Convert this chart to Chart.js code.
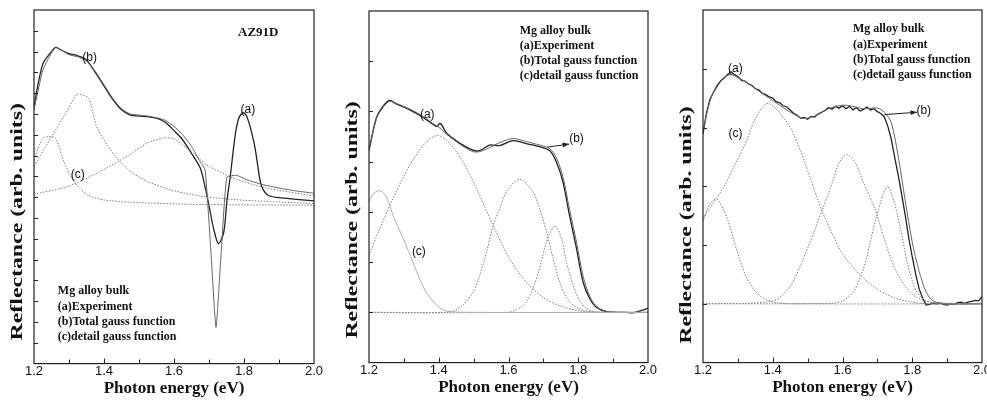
<!DOCTYPE html>
<html>
<head>
<meta charset="utf-8">
<script src="https://cdn.jsdelivr.net/npm/chart.js@4.4.0/dist/chart.umd.min.js"></script>
<style>
    body { margin: 0; width: 987px; height: 403px; overflow: hidden; background: #fff; position: relative; }
    .panel { position: absolute; top: 0; height: 403px; }
</style>
</head>
<body>
<div class="panel" style="left:0;width:330px"><canvas id="panel1" width="330" height="403"></canvas></div>
<div class="panel" style="left:330px;width:330px"><canvas id="panel2" width="330" height="403"></canvas></div>
<div class="panel" style="left:660px;width:340px"><canvas id="panel3" width="340" height="403"></canvas></div>
<script>
// === Veriler ===
const xTikEtiketleri = ['1.2', '1.4', '1.6', '1.8', '2.0'];
const aciklamaSatirlari = ['Mg alloy bulk', '(a)Experiment', '(b)Total gauss function', '(c)detail gauss function'];

// Panel 1 (AZ91D)
const p1DeneyX = [1.2, 1.225, 1.25, 1.262, 1.275, 1.3, 1.325, 1.35, 1.375, 1.4, 1.425, 1.45, 1.475, 1.5, 1.525, 1.55, 1.575, 1.6, 1.625, 1.65, 1.675, 1.69, 1.70, 1.713, 1.727, 1.742, 1.751, 1.76, 1.775, 1.785, 1.798, 1.81, 1.83, 1.846, 1.855, 1.87, 1.9, 1.95, 2.0];
const p1DeneyY = [12.4, 14.4, 15.0, 15.2, 15.1, 14.9, 14.8, 14.6, 14.0, 13.35, 12.7, 12.2, 11.95, 11.9, 11.87, 11.8, 11.6, 11.2, 10.75, 10.1, 9.4, 8.4, 7.6, 6.5, 5.77, 6.3, 7.8, 8.9, 11.0, 11.8, 12.06, 11.8, 10.5, 8.8, 8.35, 8.08, 7.98, 7.9, 7.82];
const p1ToplamX = [1.2, 1.225, 1.25, 1.262, 1.275, 1.3, 1.325, 1.35, 1.375, 1.4, 1.425, 1.45, 1.475, 1.5, 1.525, 1.55, 1.575, 1.6, 1.625, 1.65, 1.675, 1.689, 1.705, 1.72, 1.735, 1.751, 1.779, 1.808, 1.85, 1.903, 1.95, 2.0];
const p1ToplamY = [12.2, 14.1, 14.95, 15.2, 15.1, 14.85, 14.75, 14.55, 14.05, 13.4, 12.75, 12.25, 12.0, 11.95, 11.9, 11.82, 11.7, 11.4, 11.0, 10.45, 9.7, 9.3, 5.5, 1.74, 5.4, 8.95, 9.05, 8.84, 8.62, 8.43, 8.3, 8.19];
const p1Gauss1X = [1.2, 1.215, 1.228, 1.261, 1.285, 1.313, 1.352, 1.399, 1.475, 1.646, 1.8, 2.0];
const p1Gauss1Y = [9.8, 10.5, 10.88, 10.85, 9.72, 8.76, 8.11, 7.87, 7.76, 7.66, 7.63, 7.62];
const p1Gauss2X = [1.2, 1.25, 1.3, 1.323, 1.356, 1.38, 1.428, 1.475, 1.523, 1.589, 1.646, 1.7, 1.8, 2.0];
const p1Gauss2Y = [9.5, 10.9, 12.3, 12.95, 12.76, 11.33, 10.05, 9.24, 8.76, 8.36, 8.14, 8.0, 7.85, 7.7];
const p1Gauss3X = [1.2, 1.295, 1.39, 1.466, 1.523, 1.57, 1.598, 1.636, 1.693, 1.769, 1.864, 2.0];
const p1Gauss3Y = [8.15, 8.5, 9.24, 9.97, 10.6, 10.85, 10.82, 10.37, 9.56, 8.92, 8.44, 8.06];

// Panel 2
const p2DeneyX = [1.2, 1.221, 1.24, 1.259, 1.278, 1.317, 1.355, 1.384, 1.395, 1.403, 1.41, 1.422, 1.46, 1.498, 1.517, 1.546, 1.575, 1.613, 1.651, 1.69, 1.718, 1.737, 1.756, 1.775, 1.795, 1.814, 1.833, 1.852, 1.881, 1.938, 1.957, 2.0];
const p2DeneyY = [3.23, 3.87, 4.1, 4.22, 4.15, 4.03, 3.88, 3.74, 3.7, 3.76, 3.72, 3.57, 3.37, 3.23, 3.22, 3.33, 3.32, 3.42, 3.36, 3.3, 3.22, 3.0, 2.6, 1.93, 1.27, 0.6, 0.27, 0.1, 0.013, 0, -0.01, 0.08];
const p2ToplamX = [1.2, 1.221, 1.24, 1.259, 1.278, 1.317, 1.355, 1.384, 1.403, 1.422, 1.46, 1.498, 1.517, 1.546, 1.575, 1.613, 1.651, 1.69, 1.718, 1.737, 1.756, 1.775, 1.795, 1.814, 1.833, 1.852, 1.881, 1.938, 2.0];
const p2ToplamY = [3.2, 3.85, 4.08, 4.2, 4.16, 4.05, 3.9, 3.76, 3.67, 3.55, 3.35, 3.2, 3.2, 3.28, 3.38, 3.46, 3.4, 3.33, 3.26, 3.08, 2.7, 2.05, 1.4, 0.72, 0.32, 0.12, 0.02, 0, 0];
const p2Gauss1X = [1.2, 1.215, 1.233, 1.25, 1.269, 1.298, 1.326, 1.345, 1.364, 1.393, 1.422, 1.5, 2.0];
const p2Gauss1Y = [2.2, 2.38, 2.42, 2.3, 1.93, 1.47, 1.0, 0.67, 0.4, 0.15, 0.03, 0, 0];
const p2Gauss2X = [1.2, 1.231, 1.269, 1.317, 1.365, 1.398, 1.431, 1.469, 1.508, 1.556, 1.603, 1.651, 1.699, 1.747, 1.804, 1.85, 2.0];
const p2Gauss2Y = [1.13, 1.67, 2.27, 2.93, 3.4, 3.52, 3.37, 3.0, 2.47, 1.73, 1.07, 0.6, 0.3, 0.13, 0.03, 0, 0];
const p2Gauss3X = [1.2, 1.431, 1.47, 1.498, 1.517, 1.537, 1.556, 1.575, 1.594, 1.632, 1.67, 1.689, 1.709, 1.728, 1.747, 1.766, 1.795, 1.842, 2.0];
const p2Gauss3Y = [0, 0.01, 0.15, 0.4, 0.73, 1.2, 1.73, 2.07, 2.4, 2.65, 2.4, 2.07, 1.6, 1.07, 0.6, 0.3, 0.1, 0.01, 0];
const p2Gauss4X = [1.2, 1.594, 1.623, 1.651, 1.67, 1.689, 1.709, 1.733, 1.752, 1.766, 1.786, 1.804, 1.823, 1.852, 2.0];
const p2Gauss4Y = [0, 0, 0.05, 0.2, 0.47, 0.87, 1.4, 1.72, 1.47, 1.0, 0.53, 0.23, 0.08, 0.01, 0];

// Panel 3
const p3DeneyX = [1.20, 1.21, 1.22, 1.23, 1.24, 1.25, 1.26, 1.27, 1.28, 1.29, 1.30, 1.31, 1.32, 1.33, 1.34, 1.35, 1.36, 1.37, 1.38, 1.39, 1.40, 1.41, 1.42, 1.43, 1.44, 1.45, 1.46, 1.47, 1.48, 1.49, 1.50, 1.51, 1.52, 1.53, 1.54, 1.55, 1.56, 1.57, 1.58, 1.59, 1.60, 1.61, 1.62, 1.63, 1.64, 1.65, 1.66, 1.67, 1.68, 1.69, 1.70, 1.71, 1.72, 1.73, 1.74, 1.75, 1.76, 1.77, 1.78, 1.79, 1.80, 1.81, 1.82, 1.83, 1.84, 1.85, 1.86, 1.87, 1.88, 1.89, 1.90, 1.91, 1.92, 1.93, 1.94, 1.95, 1.96, 1.97, 1.98, 1.99, 2.00];
const p3DeneyY = [2.89, 3.25, 3.48, 3.60, 3.70, 3.79, 3.84, 3.90, 3.95, 3.90, 3.87, 3.80, 3.79, 3.74, 3.72, 3.66, 3.64, 3.58, 3.56, 3.52, 3.50, 3.44, 3.42, 3.37, 3.35, 3.30, 3.24, 3.21, 3.16, 3.17, 3.14, 3.19, 3.18, 3.23, 3.26, 3.29, 3.34, 3.31, 3.36, 3.33, 3.37, 3.32, 3.36, 3.30, 3.34, 3.28, 3.31, 3.35, 3.30, 3.32, 3.27, 3.24, 3.18, 3.02, 2.80, 2.48, 2.18, 1.85, 1.50, 1.12, 0.80, 0.50, 0.25, 0.09, -0.02, -0.01, 0.01, 0.00, 0.01, -0.01, -0.02, 0.00, -0.01, 0.02, 0.03, 0.01, 0.03, 0.04, 0.06, 0.05, 0.12];
const p3ToplamX = [1.2, 1.22, 1.24, 1.26, 1.28, 1.3, 1.33, 1.36, 1.4, 1.44, 1.48, 1.5, 1.53, 1.56, 1.6, 1.63, 1.66, 1.7, 1.72, 1.74, 1.76, 1.78, 1.8, 1.82, 1.84, 1.86, 1.9, 2.0];
const p3ToplamY = [2.95, 3.45, 3.72, 3.85, 3.9, 3.85, 3.75, 3.62, 3.46, 3.3, 3.17, 3.16, 3.22, 3.32, 3.38, 3.36, 3.32, 3.33, 3.26, 3.08, 2.5, 1.75, 1.05, 0.55, 0.2, 0.05, 0, 0];
const p3Gauss1X = [1.2, 1.22, 1.24, 1.269, 1.298, 1.326, 1.355, 1.384, 1.412, 1.45, 2.0];
const p3Gauss1Y = [1.41, 1.7, 1.78, 1.46, 0.89, 0.43, 0.18, 0.06, 0.02, 0, 0];
const p3Gauss2X = [1.2, 1.23, 1.259, 1.29, 1.321, 1.35, 1.383, 1.412, 1.45, 1.48, 1.51, 1.54, 1.57, 1.6, 1.65, 1.7, 1.75, 1.8, 1.85, 2.0];
const p3Gauss2Y = [1.45, 1.72, 1.98, 2.35, 2.72, 3.15, 3.41, 3.3, 3.0, 2.6, 2.1, 1.6, 1.2, 0.85, 0.5, 0.25, 0.1, 0.03, 0, 0];
const p3Gauss3X = [1.2, 1.4, 1.45, 1.5, 1.541, 1.57, 1.59, 1.612, 1.635, 1.66, 1.694, 1.72, 1.75, 1.78, 1.81, 1.85, 1.9, 2.0];
const p3Gauss3Y = [0, 0.05, 0.3, 0.95, 1.58, 2.05, 2.4, 2.54, 2.42, 2.07, 1.6, 1.1, 0.6, 0.3, 0.12, 0.03, 0, 0];
const p3Gauss4X = [1.2, 1.57, 1.603, 1.632, 1.661, 1.68, 1.699, 1.728, 1.747, 1.766, 1.785, 1.804, 1.823, 1.852, 2.0];
const p3Gauss4Y = [0, 0.01, 0.06, 0.21, 0.61, 1.06, 1.52, 2.0, 1.75, 1.29, 0.72, 0.32, 0.12, 0.03, 0];

// === Stiller ===
const serifFont = '"Liberation Serif", "Times New Roman", serif';
const sansFont = '"Liberation Sans", Arial, sans-serif';
const stiller = {
    deney: { borderColor: '#222', borderWidth: 1.3 },
    toplam: { borderColor: '#666', borderWidth: 1 },
    gauss: { borderColor: '#7d7d7d', borderWidth: 1, borderDash: [1.5, 1.5] },
    acikGauss: { borderColor: '#b0b0b0', borderWidth: 1 }
};

// Seri oluştur
function seri(xs, ys, stil, tension = 0.3) {
    return Object.assign({
        data: xs.map((x, i) => ({ x, y: ys[i] })),
        pointRadius: 0,
        fill: false,
        tension
    }, stil);
}

// Çerçeve ve içe dönük tikler
const cerceve = {
    id: 'cerceve',
    afterDraw(chart) {
        const { ctx, chartArea: a, scales: { x, y } } = chart;
        ctx.save();
        ctx.strokeStyle = '#222';
        ctx.lineWidth = 1.2;
        ctx.strokeRect(a.left, a.top, a.right - a.left, a.bottom - a.top);
        ctx.lineWidth = 1;
        ctx.beginPath();
        x.ticks.forEach(t => {
            if (t.value <= x.min + 1e-6 || t.value >= x.max - 1e-6) return;
            const px = Math.round(x.getPixelForValue(t.value)) + 0.5;
            const buyuk = Math.round(t.value * 10) % 2 === 0;
            ctx.moveTo(px, a.bottom);
            ctx.lineTo(px, a.bottom - (buyuk ? 5 : 4));
        });
        y.ticks.forEach(t => {
            if (t.value <= y.min + 1e-6 || t.value >= y.max - 1e-6) return;
            const py = Math.round(y.getPixelForValue(t.value)) + 0.5;
            ctx.moveTo(a.left, py);
            ctx.lineTo(a.left + 4, py);
        });
        ctx.stroke();
        ctx.restore();
    }
};

// Yazı, ok ve dikey eksen başlığı eklentisi
function notEklentisi(notlar) {
    return {
        id: 'notlar',
        afterDraw(chart) {
            const { ctx, chartArea: a, scales: { x, y } } = chart;
            ctx.save();
            ctx.fillStyle = '#111';
            ctx.textBaseline = 'middle';
            (notlar.yazilar || []).forEach(n => {
                ctx.font = n.font;
                ctx.textAlign = n.hiza || 'center';
                ctx.fillText(n.metin, x.getPixelForValue(n.x), y.getPixelForValue(n.y));
            });
            (notlar.oklar || []).forEach(o => {
                const x1 = x.getPixelForValue(o.x1), y1 = y.getPixelForValue(o.y1);
                const x2 = x.getPixelForValue(o.x2), y2 = y.getPixelForValue(o.y2);
                const aci = Math.atan2(y2 - y1, x2 - x1);
                ctx.strokeStyle = '#222';
                ctx.lineWidth = 1;
                ctx.beginPath();
                ctx.moveTo(x1, y1);
                ctx.lineTo(x2, y2);
                ctx.stroke();
                ctx.beginPath();
                ctx.moveTo(x2, y2);
                ctx.lineTo(x2 - 7 * Math.cos(aci - 0.35), y2 - 7 * Math.sin(aci - 0.35));
                ctx.lineTo(x2 - 7 * Math.cos(aci + 0.35), y2 - 7 * Math.sin(aci + 0.35));
                ctx.closePath();
                ctx.fillStyle = '#222';
                ctx.fill();
            });
            // Dikey eksen başlığı (orijinalde metin uzun yönde gerilmiş)
            if (notlar.yBaslik) {
                const b = notlar.yBaslik;
                ctx.translate(a.left - 16, y.getPixelForValue(b.y));
                ctx.rotate(-Math.PI / 2);
                ctx.scale(1.4, 1);
                ctx.font = 'bold 17px ' + serifFont;
                ctx.textAlign = 'center';
                ctx.fillStyle = '#111';
                ctx.fillText(b.metin, 0, 0);
            }
            ctx.restore();
        }
    };
}

// Açıklama bloğu (legend yazıları)
function aciklama(x, ys) {
    return aciklamaSatirlari.map((metin, i) => ({ metin, x, y: ys[i], hiza: 'left', font: 'bold 12px ' + serifFont }));
}

const etiketFont = '12px ' + sansFont;

// Panel çiz
function panelCiz(id, datasets, yMin, yMax, dolgu, notlar) {
    return new Chart(document.getElementById(id), {
        type: 'line',
        data: { datasets },
        options: {
            responsive: false,
            animation: false,
            layout: { padding: dolgu },
            plugins: { legend: { display: false }, tooltip: { enabled: false } },
            scales: {
                x: {
                    type: 'linear', min: 1.2, max: 2.0,
                    grid: { display: false, drawTicks: false },
                    border: { display: false },
                    ticks: {
                        stepSize: 0.1, autoSkip: false, maxRotation: 0, padding: 1,
                        color: '#111', font: { family: sansFont, size: 13, lineHeight: 1 },
                        callback: v => {
                            const s = Number(v).toFixed(1);
                            return xTikEtiketleri.includes(s) ? s : '';
                        }
                    },
                    title: {
                        display: true, text: 'Photon energy (eV)', color: '#111',
                        font: { family: serifFont, size: 17, weight: 'bold' },
                        padding: { top: 0, bottom: 0 }
                    }
                },
                y: {
                    type: 'linear', min: yMin, max: yMax,
                    grid: { display: false, drawTicks: false },
                    border: { display: false },
                    ticks: { display: false, stepSize: 1 },
                    title: { display: false }
                }
            }
        },
        plugins: [cerceve, notEklentisi(notlar)]
    });
}

document.addEventListener('DOMContentLoaded', () => {
    // Panel 1
    panelCiz('panel1', [
        seri(p1Gauss1X, p1Gauss1Y, stiller.gauss, 0.2),
        seri(p1Gauss2X, p1Gauss2Y, stiller.gauss, 0.2),
        seri(p1Gauss3X, p1Gauss3Y, stiller.gauss, 0.2),
        seri(p1ToplamX, p1ToplamY, stiller.toplam, 0.15),
        seri(p1DeneyX, p1DeneyY, stiller.deney, 0.3)
    ], 0, 17, { left: 34, right: 16, top: 10, bottom: 4 }, {
        yazilar: [
            { metin: 'AZ91D', x: 1.783, y: 15.9, hiza: 'left', font: 'bold 13px ' + serifFont },
            { metin: '(b)', x: 1.359, y: 14.69, font: etiketFont },
            { metin: '(a)', x: 1.811, y: 12.22, font: etiketFont },
            { metin: '(c)', x: 1.325, y: 9.08, font: etiketFont }
        ].concat(aciklama(1.268, [3.48, 2.74, 2.02, 1.26])),
        yBaslik: { metin: 'Reflectance (arb. units)', y: 6.82 }
    });

    // Panel 2
    panelCiz('panel2', [
        seri(p2Gauss1X, p2Gauss1Y, stiller.acikGauss),
        seri(p2Gauss2X, p2Gauss2Y, stiller.gauss),
        seri(p2Gauss3X, p2Gauss3Y, stiller.gauss),
        seri(p2Gauss4X, p2Gauss4Y, stiller.gauss),
        seri(p2ToplamX, p2ToplamY, stiller.toplam),
        seri(p2DeneyX, p2DeneyY, stiller.deney)
    ], -1, 6, { left: 39, right: 12, top: 11, bottom: 5 }, {
        yazilar: [
            { metin: '(a)', x: 1.367, y: 3.93, font: etiketFont },
            { metin: '(b)', x: 1.795, y: 3.45, font: etiketFont },
            { metin: '(c)', x: 1.343, y: 1.21, font: etiketFont }
        ].concat(aciklama(1.632, [5.61, 5.3, 5.0, 4.7])),
        oklar: [{ x1: 1.711, y1: 3.29, x2: 1.774, y2: 3.35 }],
        yBaslik: { metin: 'Reflectance (arb. units)', y: 1.84 }
    });

    // Panel 3
    panelCiz('panel3', [
        seri(p3Gauss1X, p3Gauss1Y, stiller.gauss),
        seri(p3Gauss2X, p3Gauss2Y, stiller.gauss),
        seri(p3Gauss3X, p3Gauss3Y, stiller.gauss),
        seri(p3Gauss4X, p3Gauss4Y, stiller.gauss),
        seri(p3ToplamX, p3ToplamY, stiller.toplam),
        seri(p3DeneyX, p3DeneyY, stiller.deney, 0)
    ], -1, 5, { left: 43, right: 18, top: 10, bottom: 5 }, {
        yazilar: [
            { metin: '(a)', x: 1.293, y: 4.0, font: etiketFont },
            { metin: '(b)', x: 1.833, y: 3.29, font: etiketFont },
            { metin: '(c)', x: 1.293, y: 2.89, font: etiketFont }
        ].concat(aciklama(1.63, [4.67, 4.41, 4.15, 3.89])),
        oklar: [{ x1: 1.72, y1: 3.22, x2: 1.814, y2: 3.26 }],
        yBaslik: { metin: 'Reflectance (arb. units)', y: 1.34 }
    });
});
</script>
</body>
</html>
